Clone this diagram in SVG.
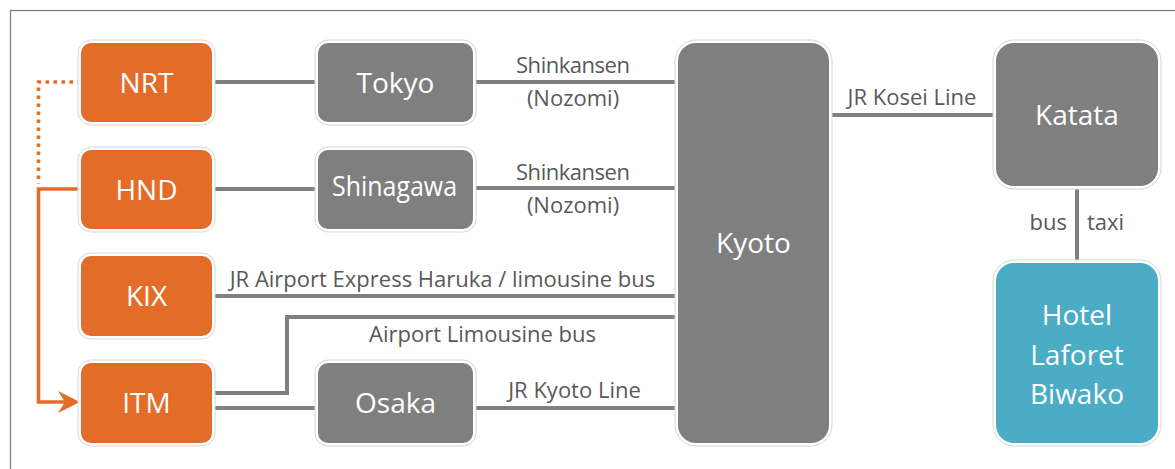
<svg xmlns="http://www.w3.org/2000/svg" width="1175" height="469" viewBox="0 0 1175 469">
<style>
.halo{fill:#fff;stroke:#d6d6d6;stroke-width:1}
.org{fill:#e36c28}
.gry{fill:#7f7f7f}
.blu{fill:#4bacc6}
.nt{font-family:"Open Sans","Noto Sans",sans-serif;font-size:28px;fill:#fff;text-anchor:middle}
.lbl{font-family:"Open Sans","Noto Sans",sans-serif;font-size:22px;fill:#595959;text-anchor:middle}
.cn{fill:none;stroke:#7f7f7f;stroke-width:4}
.oc{fill:none;stroke:#e36c28;stroke-width:3.5}
</style>
<rect x="10.5" y="10.5" width="1180" height="480" fill="#fff" stroke="#808080" stroke-width="1.3"/>
<g id="connectors">
<line class="cn" x1="212" y1="82" x2="318" y2="82"/>
<line class="cn" x1="212" y1="189" x2="318" y2="189"/>
<line class="cn" x1="473" y1="82" x2="678" y2="82"/>
<line class="cn" x1="473" y1="188" x2="678" y2="188"/>
<line class="cn" x1="212" y1="296" x2="678" y2="296"/>
<polyline class="cn" points="212,393 287,393 287,317 678,317"/>
<line class="cn" x1="212" y1="408" x2="318" y2="408"/>
<line class="cn" x1="473" y1="408" x2="678" y2="408"/>
<line class="cn" x1="829" y1="115" x2="996" y2="115"/>
<line class="cn" x1="1077" y1="186" x2="1077" y2="263"/>
<polyline class="oc" points="81,82 38.5,82 38.5,184" stroke-dasharray="3.5 4.5"/>
<polyline class="oc" points="81,189 38.5,189 38.5,402 66,402"/>
<polygon points="58,391 80,402 58,413 65,402" fill="#e36c28"/>
<text class="lbl" x="573" y="73" textLength="114">Shinkansen</text>
<text class="lbl" x="573" y="106">(Nozomi)</text>
<text class="lbl" x="573" y="180" textLength="114">Shinkansen</text>
<text class="lbl" x="573" y="213">(Nozomi)</text>
<text class="lbl" x="442.5" y="287">JR Airport Express Haruka / limousine bus</text>
<text class="lbl" x="482.5" y="342">Airport Limousine bus</text>
<text class="lbl" x="574.5" y="398">JR Kyoto Line</text>
<text class="lbl" x="912" y="105">JR Kosei Line</text>
<text class="lbl" x="1067" y="230" style="text-anchor:end">bus</text>
<text class="lbl" x="1087" y="230" style="text-anchor:start">taxi</text>
</g>
<g id="NRT"><rect class="halo" x="78" y="40" width="137" height="85" rx="13"/><rect class="org" x="81" y="43" width="131" height="79" rx="10"/><text class="nt" x="146.5" y="93">NRT</text></g>
<g id="HND"><rect class="halo" x="78" y="147" width="137" height="85" rx="13"/><rect class="org" x="81" y="150" width="131" height="79" rx="10"/><text class="nt" x="146.5" y="200">HND</text></g>
<g id="KIX"><rect class="halo" x="78" y="253" width="137" height="86" rx="13"/><rect class="org" x="81" y="256" width="131" height="80" rx="10"/><text class="nt" x="146.5" y="306">KIX</text></g>
<g id="ITM"><rect class="halo" x="78" y="360" width="137" height="86" rx="13"/><rect class="org" x="81" y="363" width="131" height="80" rx="10"/><text class="nt" x="146.5" y="413">ITM</text></g>
<g id="Tokyo"><rect class="halo" x="315" y="40" width="161" height="85" rx="13"/><rect class="gry" x="318" y="43" width="155" height="79" rx="10"/><text class="nt" x="395.5" y="93">Tokyo</text></g>
<g id="Shinagawa"><rect class="halo" x="315" y="147" width="161" height="85" rx="13"/><rect class="gry" x="318" y="150" width="155" height="79" rx="10"/><text class="nt" x="394.5" y="196" textLength="125" lengthAdjust="spacingAndGlyphs">Shinagawa</text></g>
<g id="Osaka"><rect class="halo" x="315" y="360" width="161" height="86" rx="13"/><rect class="gry" x="318" y="363" width="155" height="80" rx="10"/><text class="nt" x="395.5" y="413">Osaka</text></g>
<g id="Kyoto"><rect class="halo" x="675" y="40" width="157" height="406" rx="21"/><rect class="gry" x="678" y="43" width="151" height="400" rx="18"/><text class="nt" x="753.5" y="253">Kyoto</text></g>
<g id="Katata"><rect class="halo" x="993" y="40" width="168" height="149" rx="21"/><rect class="gry" x="996" y="43" width="162" height="143" rx="18"/><text class="nt" x="1077" y="125">Katata</text></g>
<g id="Hotel"><rect class="halo" x="993" y="260" width="168" height="186" rx="21"/><rect class="blu" x="996" y="263" width="162" height="180" rx="18"/><text class="nt" x="1077" y="325">Hotel</text><text class="nt" x="1077" y="365">Laforet</text><text class="nt" x="1077" y="404">Biwako</text></g>
</svg>
